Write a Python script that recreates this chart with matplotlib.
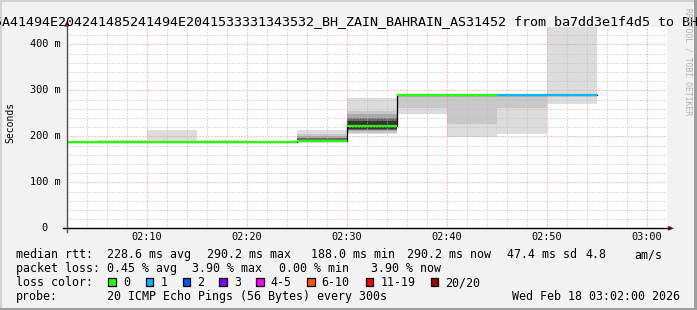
import numpy as np
import matplotlib
matplotlib.use("Agg")
import matplotlib.pyplot as plt
import matplotlib.transforms as mtransforms
from matplotlib.patches import Rectangle, Polygon
from matplotlib.lines import Line2D

# ---------------- data ----------------
title = "5A41494E204241485241494E2041533331343532_BH_ZAIN_BAHRAIN_AS31452 from ba7dd3e1f4d5 to BH"
y_label = "Seconds"
watermark = "RRDTOOL / TOBI OETIKER"

x_range = ["02:02", "03:02"]
x_tick_labels = ["02:10", "02:20", "02:30", "02:40", "02:50", "03:00"]
y_ticks = [0, 100, 200, 300, 400]
y_tick_labels = ["0", "100 m", "200 m", "300 m", "400 m"]
y_top = 437.0

step_start = ["02:00", "02:05", "02:10", "02:15", "02:20", "02:25",
              "02:30", "02:35", "02:40", "02:45", "02:50"]
step_minutes = 5
median_ms = [188.0, 188.0, 188.0, 188.0, 188.0, 190.5,
             222.0, 290.2, 290.2, 290.2, 290.2]
lost_pings = [0, 0, 0, 0, 0, 0, 0, 0, 0, 1, 1]
# smoke: sorted ping RTT pairs, outermost (fastest, slowest) first
smoke_low = [[], [187.0], [187.0], [187.0], [],
             [187.0, 187.5, 188.0, 188.5, 189.0],
             [206.0, 208.0, 211.0, 213.0, 215.0],
             [249.0, 262.0], [198.0, 226.0], [204.0, 262.0], [270.0]]
smoke_high = [[], [193.0], [213.0], [193.0], [],
              [213.0, 205.0, 200.0, 196.0, 193.0],
              [283.0, 256.0, 248.0, 239.0, 233.0],
              [291.0, 291.0], [291.0, 291.0], [291.0, 291.0], [440.0]]

loss_labels = ["0", "1", "2", "3", "4-5", "6-10", "11-19", "20/20"]
loss_colors = ["#26ff00", "#00b8ff", "#0059ff", "#7e00ff",
               "#ff00ff", "#ff5500", "#ff0000", "#a10000"]

stats_rtt = ["228.6 ms avg", "290.2 ms max", "188.0 ms min", "290.2 ms now", "47.4 ms sd", "4.8", "am/s"]
stats_loss = ["0.45 % avg", "3.90 % max", "0.00 % min", "3.90 % now"]
probe_text = "20 ICMP Echo Pings (56 Bytes) every 300s"
date_text = "Wed Feb 18 03:02:00 2026"


def to_min(s):
    h, m = s.split(":")
    return int(h) * 60 + int(m) - 120


def loss_index(n):
    if n <= 3:
        return n
    if n <= 5:
        return 4
    if n <= 10:
        return 5
    if n <= 19:
        return 6
    return 7


# ---------------- figure ----------------
W, H = 697, 310
MONO = "DejaVu Sans Mono"
fig = plt.figure(figsize=(W / 100, H / 100), dpi=100, facecolor="#F2F2F2")
pxT = mtransforms.Affine2D().scale(1 / W, -1 / H).translate(0, 1) + fig.transFigure

# border shading
for (x, y, w, h, c) in [(0, 0, W, 2, "#D2D2D2"), (0, 0, 2, H, "#D2D2D2"),
                        (0, H - 2.5, W, 2.5, "#9E9E9E"), (W - 3, 0, 3, H, "#9E9E9E")]:
    fig.add_artist(Rectangle((x, y), w, h, transform=pxT, color=c, lw=0))

ax_l, ax_r, ax_t, ax_b = 66.7, 666.7, 27.3, 228.3
ax = fig.add_axes([ax_l / W, 1 - ax_b / H, (ax_r - ax_l) / W, (ax_b - ax_t) / H])
ax.set_facecolor("white")
ax.set_xlim(to_min(x_range[0]), to_min(x_range[1]))
ax.set_ylim(0, y_top)
for s in ax.spines.values():
    s.set_visible(False)

ax.set_xticks([to_min(t) for t in x_tick_labels])
ax.set_xticks(np.arange(to_min(x_range[0]), to_min(x_range[1]) + 1, 2), minor=True)
ax.set_yticks(y_ticks)
ax.set_yticks(np.arange(0, y_top, 20), minor=True)
ax.tick_params(which="both", length=0, labelbottom=False, labelleft=False)
ax.set_axisbelow(False)
ax.grid(which="minor", color="#BDBDBD", linestyle=(0, (1, 2)), linewidth=0.72, zorder=2)
ax.grid(which="major", color="#EE8A8A", linestyle=(0, (1, 2)), linewidth=0.72, zorder=2)

# smoke
grays = ["#DCDCDC", "#C8C8C8", "#A8A8A8", "#6A6A6A", "#343434"]
starts = np.array([to_min(s) for s in step_start], dtype=float)
for i, t0 in enumerate(starts):
    for j, (lo, hi) in enumerate(zip(smoke_low[i], smoke_high[i])):
        ax.bar(t0, hi - lo, bottom=lo, width=step_minutes, align="edge",
               color=grays[j], linewidth=0, zorder=1)

# median line: black steps, then loss-coloured segments
edges = np.append(starts, starts[-1] + step_minutes)
ax.step(edges, median_ms + [median_ms[-1]], where="post", color="black", lw=0.9, zorder=3)
for i, t0 in enumerate(starts):
    ax.hlines(median_ms[i], t0, t0 + step_minutes, color=loss_colors[loss_index(lost_pings[i])],
              lw=1.6, zorder=4, capstyle="butt")

# tick labels
xt = ax.get_xaxis_transform()
yb = (ax_b - 240.5) / (ax_b - ax_t)
for t in x_tick_labels:
    ax.text(to_min(t), yb, t, transform=xt, ha="center", va="baseline",
            fontsize=7.4, family=MONO, clip_on=False)
yt = ax.get_yaxis_transform()
for v, lab in zip(y_ticks, y_tick_labels):
    xr = (60.8 if lab != "0" else 47.2)
    ax.text((xr - ax_l) / (ax_r - ax_l), v, lab, transform=yt, ha="right", va="center",
            fontsize=7.4, family=MONO, clip_on=False)

# axes lines and arrows
fig.add_artist(Line2D([66.7, 66.7], [231.5, 24.0], transform=pxT, color="#505050", lw=1.0))
fig.add_artist(Line2D([63.0, 669.0], [228.3, 228.3], transform=pxT, color="black", lw=1.0))
fig.add_artist(Polygon([[66.7, 21.3], [64.2, 26.5], [69.2, 26.5]], transform=pxT,
                       color="#7F0000", lw=0))
fig.add_artist(Polygon([[673.8, 228.3], [668.3, 225.8], [668.3, 230.8]], transform=pxT,
                       color="#7F0000", lw=0))

# title, y label, watermark
fig.text(-6.5, 25.0, title, transform=pxT, ha="left", va="baseline", fontsize=9.6, family=MONO)
fig.text(10.7, 122.5, y_label, transform=pxT, ha="center", va="center", rotation=90,
         fontsize=7.0, family=MONO)
fig.text(688.0, 62.0, watermark, transform=pxT, ha="center", va="center", rotation=270,
         fontsize=5.8, family=MONO, color="#B0B0B0")

# legend block
LF = 8.37
def t(x, y, s):
    fig.text(x - 0.5, y, s, transform=pxT, ha="left", va="baseline", fontsize=LF, family=MONO)

t(16, 258.3, "median rtt:")
for x, s in zip([107.3, 207.3, 311.7, 407.7, 507.3, 585.7, 635.0], stats_rtt):
    t(x, 258.3, s)
t(16, 272.3, "packet loss:")
for x, s in zip([107.3, 192.5, 279.3, 371.7], stats_loss):
    t(x, 272.3, s)
t(16, 286.3, "loss color:")
box_x = [108.3, 145.7, 182.7, 219.3, 256.3, 307.0, 365.7, 430.7]
for bx, lab, col in zip(box_x, loss_labels, loss_colors):
    fig.add_artist(Rectangle((bx, 277.7), 7.6, 8.0, transform=pxT, facecolor=col,
                             edgecolor="black", lw=0.9))
    t(bx + 15.0, 286.3, lab)
t(16, 300.0, "probe:")
t(107.3, 300.0, probe_text)
t(512.7, 300.0, date_text)

fig.savefig("out.png", dpi=100, facecolor=fig.get_facecolor())
